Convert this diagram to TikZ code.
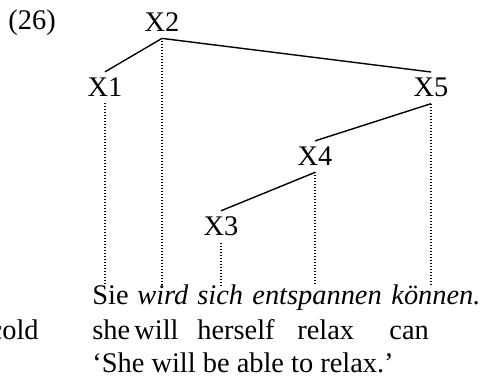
\documentclass[tikz,border=0pt]{standalone}
\usepackage{fontspec}
\setmainfont{Liberation Serif}
\usetikzlibrary{calc}
\tikzset{
  treebranch/.style={draw=black, line width=0.7pt},
  treetrace/.style={draw=black, line width=0.55pt, dash pattern=on 0.5pt off 1pt},
  treelbl/.style={anchor=base, inner sep=3pt},
}

\begin{document}
\begin{tikzpicture}[
  x=0.5pt, y=-0.5pt,
  font=\fontsize{14.2}{17}\selectfont,
  wd/.style={anchor=base west, inner xsep=0pt, inner ysep=2pt, text height=0.7em},
]
  \useasboundingbox (0,0) rectangle (480,378);
  \node[anchor=base west, inner sep=0pt] (exnum) at (8,30) {(26)};

  % tree
  \node[treelbl] (X2) at (162,32) {X2};
  \node[treelbl] (X1) at (105,97) {X1};
  \node[treelbl] (X5) at (431,97) {X5};
  \node[treelbl] (X4) at (315,166) {X4};
  \node[treelbl] (X3) at (221,236) {X3};

  % example sentence, gloss, translation
  \node[wd] (Sie) at (92,304) {Sie};
  \node[wd] (wird) at (137,304) {\itshape wird};
  \node[wd] (sich) at (197,304) {\itshape sich};
  \node[wd] (entsp) at (252,304) {\itshape entspannen};
  \node[wd] (konnen) at (391,304) {\itshape können.};
  \node[wd] (she) at (92,339) {she};
  \node[wd] (will) at (134,339) {will};
  \node[wd] (herself) at (197,339) {herself};
  \node[wd] (relax) at (297,339) {relax};
  \node[wd] (can) at (389,339) {can};
  \node[wd] (transl) at (92,372) {‘She will be able to relax.’};
  \node[anchor=base east, inner sep=0pt] (cold) at (39,339) {cold};

  \draw[treebranch] (X2.south) -- (X1.north);
  \draw[treebranch] (X2.south) -- (X5.north);
  \draw[treebranch] (X5.south) -- (X4.north);
  \draw[treebranch] (X4.south) -- (X3.north);

  \draw[treetrace] (X1.south) -- (X1.south |- Sie.north);
  \draw[treetrace] (X2.south) -- (X2.south |- wird.north);
  \draw[treetrace] (X3.south) -- (X3.south |- sich.north);
  \draw[treetrace] (X4.south) -- (X4.south |- entsp.north);
  \draw[treetrace] (X5.south) -- (X5.south |- konnen.north);
\end{tikzpicture}
\end{document}
